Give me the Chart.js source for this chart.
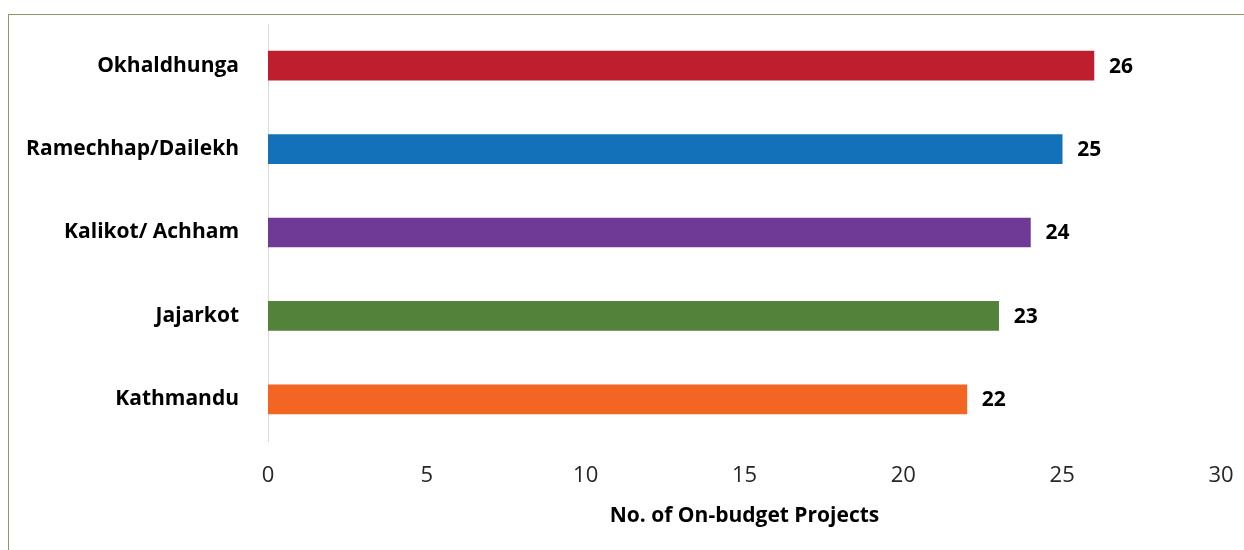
<!DOCTYPE html>
<html>
<head>
<meta charset="utf-8">
<script src="https://cdn.jsdelivr.net/npm/chart.js@4"></script>
<style>
  body { margin: 0; background: #fff; overflow: hidden; }
  #frame { position: absolute; left: 8px; top: 14px; width: 1300px; height: 600px; border: 1px solid #8f9868; }
  #wrap { position: absolute; left: 0; top: 0; width: 1244px; height: 550px; }
</style>
</head>
<body>
<div id="frame"></div>
<div id="wrap"><canvas id="myChart"></canvas></div>
<script>
var districts = ["Okhaldhunga", "Ramechhap/Dailekh", "Kalikot/ Achham", "Jajarkot", "Kathmandu"];
var projects = [26, 25, 24, 23, 22];
var barColors = ['#BE1E2D', '#1371B9', '#6F3996', '#53823A', '#F26522'];
var xTicks = [0, 5, 10, 15, 20, 25, 30];

var fontFamily = "'Open Sans', Lato, sans-serif";

// write the value just right of each bar
var valueLabels = {
    id: 'valueLabels',
    afterDatasetsDraw: function(chart) {
        var ctx = chart.ctx;
        var meta = chart.getDatasetMeta(0);
        ctx.save();
        ctx.font = "bold 21px " + fontFamily;
        ctx.fillStyle = '#000';
        ctx.textAlign = 'left';
        ctx.textBaseline = 'middle';
        meta.data.forEach(function(bar, i) {
            ctx.fillText(projects[i], bar.x + 15, bar.y + 1);
        });
        ctx.restore();
    }
};

var ctx = document.getElementById("myChart").getContext('2d');
var myChart = new Chart(ctx, {
    type: 'bar',
    data: {
        labels: districts,
        datasets: [{
            data: projects,
            backgroundColor: barColors,
            barThickness: 29
        }]
    },
    plugins: [valueLabels],
    options: {
        indexAxis: 'y',
        responsive: true,
        maintainAspectRatio: false,
        animation: false,
        layout: { padding: { left: 0, right: 23, top: 24, bottom: 8 } },
        plugins: {
            legend: { display: false },
            tooltip: { enabled: false }
        },
        scales: {
            x: {
                min: 0,
                max: 30,
                afterBuildTicks: function(scale) {
                    scale.ticks = xTicks.map(function(v) { return { value: v }; });
                },
                grid: { display: false, drawTicks: false },
                border: { display: false },
                ticks: {
                    padding: 22,
                    color: '#262626',
                    font: { family: fontFamily, size: 22 }
                },
                title: {
                    display: true,
                    text: 'No. of On-budget Projects',
                    color: '#000',
                    font: { family: fontFamily, size: 21, weight: 'bold' },
                    padding: { top: 0, bottom: 13 }
                },
                afterFit: function(scale) {
                    scale.height = 550 - 441 - 8;
                    scale.paddingLeft = 0;
                    scale.paddingRight = 0;
                }
            },
            y: {
                grid: { display: false, drawTicks: false },
                border: { display: true, color: '#d9d9d9', width: 1 },
                ticks: {
                    padding: 29,
                    color: '#000',
                    font: { family: fontFamily, size: 21, weight: 'bold' }
                },
                afterFit: function(scale) {
                    scale.width = 268;
                    scale.paddingTop = 0;
                    scale.paddingBottom = 0;
                }
            }
        }
    }
});
</script>
</body>
</html>
